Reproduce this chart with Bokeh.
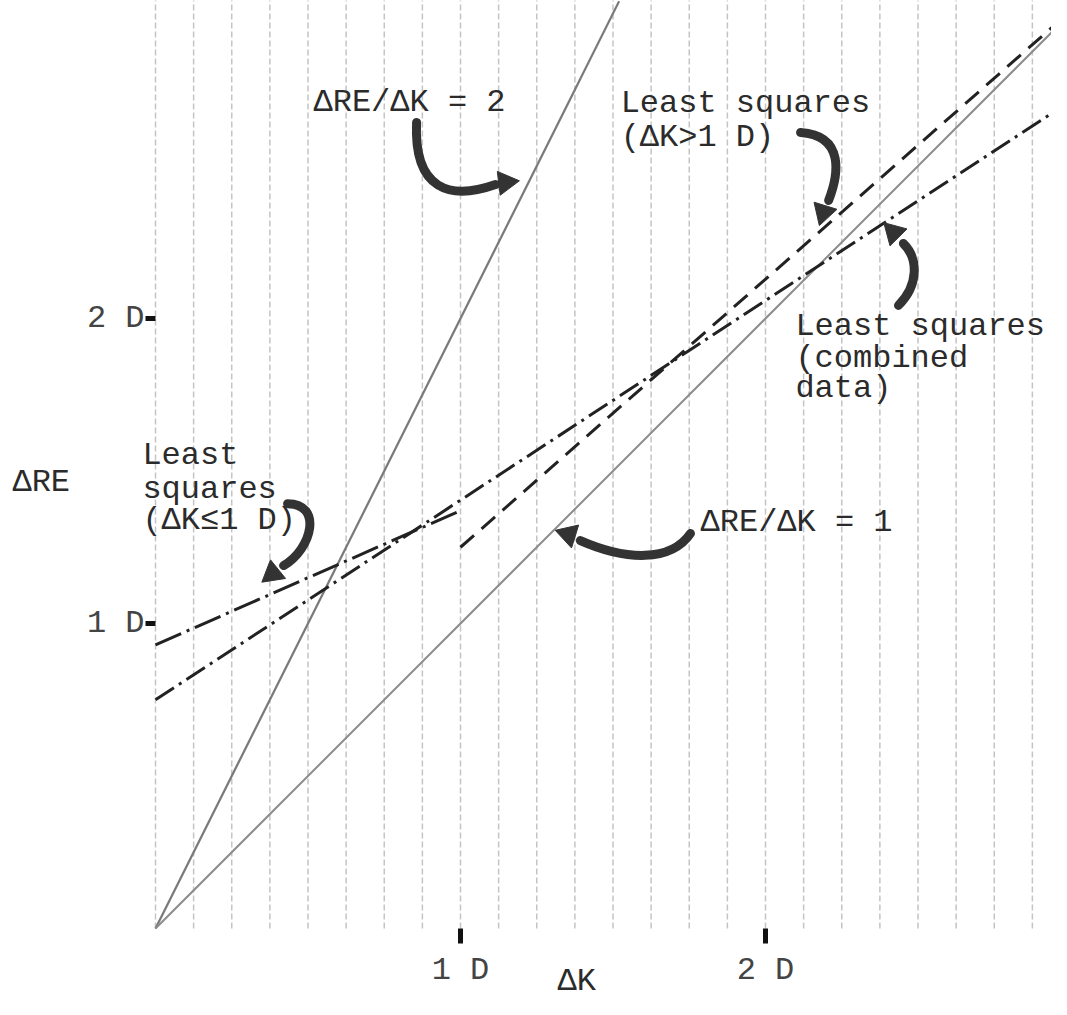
import numpy as np
from bokeh.plotting import figure
from bokeh.models import Range1d, FixedTicker, Label
from bokeh.embed import file_html
from bokeh.resources import INLINE

# ---- data (in dioptres, D) ----
slope2_x = [0.0, 1.52]
slope2_y = [0.0, 3.04]
slope1_x = [0.0, 2.98]
slope1_y = [0.0, 2.98]
ls_low_x = [0.0, 1.0]          # least squares, dK <= 1 D
ls_low_y = [0.93, 1.37]
ls_high_x = [1.0, 2.98]        # least squares, dK > 1 D
ls_high_y = [1.25, 2.99]
ls_comb_x = [0.0, 2.98]        # least squares, combined data
ls_comb_y = [0.75, 2.70]

x_ticks = [1, 2]
x_tick_labels = ["1 D", "2 D"]
y_ticks = [1, 2]
y_tick_labels = ["1 D", "2 D"]

grid_x = list(np.arange(0, 3.0, 0.125))

# annotations (text, x, y)
annotations = [
    ("ΔRE/ΔK = 2", 0.518, 2.708),
    ("Least squares", 1.525, 2.705),
    ("(ΔK>1 D)", 1.525, 2.593),
    ("Least squares", 2.098, 1.974),
    ("(combined", 2.098, 1.869),
    (" data)", 2.098, 1.770),
    ("Least", -0.043, 1.551),
    ("squares", -0.043, 1.440),
    ("(ΔK≤1 D)", -0.043, 1.338),
    ("ΔRE/ΔK = 1", 1.787, 1.331),
    ("ΔRE", -0.469, 1.462),
    ("ΔK", 1.318, -0.175),
]

# hand-drawn arrows: bezier (x0,y0,cx0,cy0,cx1,cy1,x1,y1) and head (hx,hy,angle)
arr_x0 = [0.856, 2.115, 2.436, 0.433, 1.754]
arr_y0 = [2.643, 2.610, 2.043, 1.393, 1.295]
arr_cx0 = [0.846, 2.262, 2.502, 0.548, 1.689]
arr_cy0 = [2.420, 2.600, 2.108, 1.393, 1.200]
arr_cx1 = [0.967, 2.239, 2.502, 0.515, 1.541]
arr_cy1 = [2.387, 2.469, 2.197, 1.246, 1.207]
arr_x1 = [1.115, 2.207, 2.452, 0.420, 1.393]
arr_y1 = [2.439, 2.387, 2.246, 1.190, 1.272]
head_x = [1.148, 2.190, 2.420, 0.384, 1.354]
head_y = [2.446, 2.348, 2.282, 1.164, 1.292]
head_a = [-1.45, 2.84, 0.785, 2.25, 1.27]

FONT = "Liberation Mono"
INK = "#2b2b2b"
W, H = 1051, 999
PX = 305.0          # pixels per dioptre
X0, Y0 = 155, 928   # canvas position of the origin

p = figure(width=W, height=H,
           x_range=Range1d(-X0 / PX, (W - X0) / PX),
           y_range=Range1d(-(H - Y0) / PX, Y0 / PX),
           output_backend="svg", toolbar_location=None,
           min_border=0)
p.outline_line_color = None
p.background_fill_color = "white"
p.border_fill_color = "white"
p.grid.grid_line_color = None

# graph-paper vertical lines
p.segment(x0=grid_x, y0=[0] * len(grid_x), x1=grid_x, y1=[3.1] * len(grid_x),
          line_color="#c4c4c4", line_width=1.5, line_dash="6 3")

# axes drawn at the origin
for ax, ticks, labels, tout, stand in [
        (p.xaxis, x_ticks, x_tick_labels, 15, 8),
        (p.yaxis, y_ticks, y_tick_labels, 10, 1)]:
    ax.fixed_location = 0
    ax.ticker = FixedTicker(ticks=ticks)
    ax.major_label_overrides = {t: l for t, l in zip(ticks, labels)}
    ax.axis_line_color = None
    ax.major_tick_line_width = 5
    ax.major_tick_line_color = "#111111"
    ax.major_tick_out = tout
    ax.major_tick_in = 0
    ax.minor_tick_line_color = None
    ax.major_label_standoff = stand
    ax.major_label_text_font = FONT
    ax.major_label_text_font_size = "32px"
    ax.major_label_text_color = "#444444"

# lines
p.line(slope2_x, slope2_y, line_color="#7a7a7a", line_width=2.2)
p.line(slope1_x, slope1_y, line_color="#8c8c8c", line_width=2)
p.line(ls_low_x, ls_low_y, line_color="#222222", line_width=3, line_dash="28 6 3 6")
p.line(ls_comb_x, ls_comb_y, line_color="#222222", line_width=3, line_dash="22 6 3 6")
p.line(ls_high_x, ls_high_y, line_color="#222222", line_width=3, line_dash="18 10")

# arrows
p.bezier(x0=arr_x0, y0=arr_y0, x1=arr_x1, y1=arr_y1,
         cx0=arr_cx0, cy0=arr_cy0, cx1=arr_cx1, cy1=arr_cy1,
         line_color="#333333", line_width=9, line_cap="round")
p.scatter(head_x, head_y, marker="triangle", size=24, angle=head_a,
          fill_color="#333333", line_color="#333333")

# texts
for txt, x, y in annotations:
    p.add_layout(Label(x=x, y=y, text=txt, text_font=FONT,
                       text_font_size="32px", text_color=INK,
                       text_align="left", text_baseline="middle"))

open("out.html", "w").write(file_html(p, INLINE))
